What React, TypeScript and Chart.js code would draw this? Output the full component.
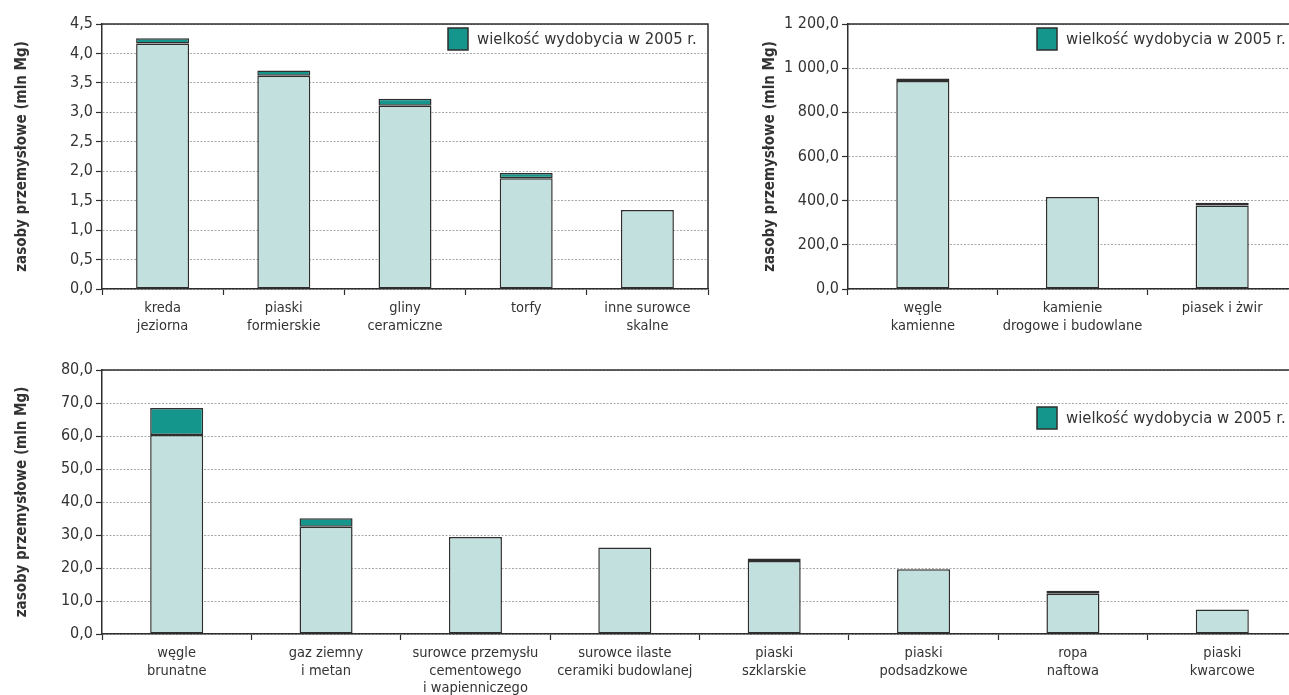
import { useEffect, useRef } from 'react';
import { Chart, registerables } from 'chart.js';

Chart.register(...registerables);

// Reserves (light) with 2005 extraction stacked on top (dark), in mln Mg.
const smallCategories = [
  ['kreda', 'jeziorna'],
  ['piaski', 'formierskie'],
  ['gliny', 'ceramiczne'],
  ['torfy'],
  ['inne surowce', 'skalne'],
];
const smallReserves = [4.17, 3.62, 3.11, 1.88, 1.34];
const smallOutput = [0.09, 0.09, 0.12, 0.09, 0];

const rockCategories = [
  ['węgle', 'kamienne'],
  ['kamienie', 'drogowe i budowlane'],
  ['piasek i żwir'],
];
const rockReserves = [942, 417, 378];
const rockOutput = [11, 0, 13];

const mainCategories = [
  ['węgle', 'brunatne'],
  ['gaz ziemny', 'i metan'],
  ['surowce przemysłu', 'cementowego', 'i wapienniczego'],
  ['surowce ilaste', 'ceramiki budowlanej'],
  ['piaski', 'szklarskie'],
  ['piaski', 'podsadzkowe'],
  ['ropa', 'naftowa'],
  ['piaski', 'kwarcowe'],
];
const mainReserves = [60.3, 32.5, 29.4, 26.2, 22.1, 19.6, 12.2, 7.4];
const mainOutput = [8.2, 2.6, 0, 0, 0.8, 0, 0.9, 0];

// Value-axis ranges: [max, step]
const smallAxis = [4.5, 0.5];
const rockAxis = [1200, 200];
const mainAxis = [80, 10];

const RESERVES_LABEL = 'zasoby przemysłowe';
const OUTPUT_LABEL = 'wielkość wydobycia w 2005 r.';
const AXIS_TITLE = 'zasoby przemysłowe (mln Mg)';

const FONT = '"DejaVu Sans Condensed", "DejaVu Sans", sans-serif';
const TEXT = '#333333';
const LIGHT = '#c2e1de';
const DARK = '#15968c';
const EDGE = '#2e2e2e';
const GRID = '#a8a8a8';

function formatTick(v: number): string {
  const [whole, dec] = v.toFixed(1).split('.');
  return whole.replace(/\B(?=(\d{3})+(?!\d))/g, ' ') + ',' + dec;
}

// Closes the plot box with a top and right edge.
const framePlugin = {
  id: 'frame',
  afterDatasetsDraw(chart: any) {
    const { ctx, chartArea: a } = chart;
    ctx.save();
    ctx.strokeStyle = EDGE;
    ctx.lineWidth = 1.5;
    ctx.beginPath();
    ctx.moveTo(a.left, a.top);
    ctx.lineTo(a.right, a.top);
    ctx.lineTo(a.right, a.bottom);
    ctx.stroke();
    ctx.restore();
  },
};

// Single-entry legend drawn inside the plot area, top right.
const insideLegend = {
  id: 'insideLegend',
  afterDraw(chart: any, _args: any, opts: any) {
    const { ctx, chartArea: a } = chart;
    const x = a.right - opts.fromRight;
    const y = a.top + opts.fromTop;
    const ds = chart.data.datasets[1];
    ctx.save();
    ctx.fillStyle = ds.backgroundColor;
    ctx.fillRect(x, y, 20, 22);
    ctx.strokeStyle = EDGE;
    ctx.lineWidth = 1.5;
    ctx.strokeRect(x, y, 20, 22);
    ctx.fillStyle = TEXT;
    ctx.font = `16.5px ${FONT}`;
    ctx.textBaseline = 'middle';
    ctx.textAlign = 'left';
    ctx.fillText(ds.label, x + 29, y + 11.5);
    ctx.restore();
  },
};

type PanelProps = {
  left: number;
  top: number;
  width: number;
  height: number;
  categories: string[][];
  reserves: number[];
  output: number[];
  axis: number[];
  axisWidth: number;
  titlePad: number;
  padTop: number;
  padRight: number;
  xAxisHeight: number;
  barPct: number;
  legendTop: number;
};

function Panel(p: PanelProps) {
  const ref = useRef<HTMLCanvasElement>(null);

  useEffect(() => {
    const chart = new Chart(ref.current as HTMLCanvasElement, {
      type: 'bar',
      data: {
        labels: p.categories,
        datasets: [
          {
            label: RESERVES_LABEL,
            data: p.reserves,
            backgroundColor: LIGHT,
            borderColor: EDGE,
            borderWidth: 1.5,
            borderSkipped: false,
          },
          {
            label: OUTPUT_LABEL,
            data: p.output,
            backgroundColor: DARK,
            borderColor: EDGE,
            borderWidth: 1.5,
            borderSkipped: false,
          },
        ],
      },
      options: {
        responsive: false,
        animation: false,
        layout: { padding: { top: p.padTop, right: p.padRight, left: 0, bottom: 0 } },
        datasets: { bar: { categoryPercentage: 1, barPercentage: p.barPct } },
        plugins: {
          legend: { display: false },
          tooltip: { enabled: false },
          insideLegend: { fromRight: 260, fromTop: p.legendTop },
        } as any,
        scales: {
          x: {
            stacked: true,
            grid: {
              display: true,
              drawOnChartArea: false,
              drawTicks: true,
              tickLength: 6,
              tickColor: EDGE,
              tickWidth: 1.2,
              offset: true,
            },
            border: { display: true, color: EDGE, width: 1.5 },
            ticks: {
              color: TEXT,
              font: { family: FONT, size: 14.5, lineHeight: 1.2 },
              padding: 5,
              autoSkip: false,
              maxRotation: 0,
              minRotation: 0,
            },
            afterFit: (s: any) => {
              s.height = p.xAxisHeight;
            },
          },
          y: {
            stacked: true,
            min: 0,
            max: p.axis[0],
            ticks: {
              stepSize: p.axis[1],
              callback: (v: any) => formatTick(Number(v)),
              color: TEXT,
              font: { family: FONT, size: 16 },
              padding: 3,
            },
            grid: {
              color: GRID,
              lineWidth: 1,
              tickLength: 6,
              tickColor: EDGE,
              tickWidth: 1.2,
            },
            border: { display: true, color: EDGE, width: 1.5, dash: [2, 1.5] },
            title: {
              display: true,
              text: AXIS_TITLE,
              color: TEXT,
              font: { family: FONT, size: 15, weight: 'bold' },
              padding: { top: p.titlePad, bottom: 0 },
            },
            afterFit: (s: any) => {
              s.width = p.axisWidth;
            },
          },
        },
      } as any,
      plugins: [framePlugin, insideLegend],
    });
    return () => chart.destroy();
  }, []);

  return (
    <canvas
      ref={ref}
      width={p.width}
      height={p.height}
      style={{ position: 'absolute', left: p.left, top: p.top, width: p.width, height: p.height }}
    />
  );
}

export default function App() {
  return (
    <div
      style={{
        position: 'fixed',
        left: 0,
        top: 0,
        width: 1289,
        height: 695,
        overflow: 'hidden',
        background: '#ffffff',
      }}
    >
      <Panel
        left={0}
        top={0}
        width={720}
        height={340}
        categories={smallCategories}
        reserves={smallReserves}
        output={smallOutput}
        axis={smallAxis}
        axisWidth={102}
        titlePad={13}
        padTop={24}
        padRight={12}
        xAxisHeight={51}
        barPct={0.437}
        legendTop={4}
      />
      <Panel
        left={730}
        top={0}
        width={570}
        height={340}
        categories={rockCategories}
        reserves={rockReserves}
        output={rockOutput}
        axis={rockAxis}
        axisWidth={118}
        titlePad={31}
        padTop={24}
        padRight={3}
        xAxisHeight={51}
        barPct={0.355}
        legendTop={4}
      />
      <Panel
        left={0}
        top={340}
        width={1300}
        height={355}
        categories={mainCategories}
        reserves={mainReserves}
        output={mainOutput}
        axis={mainAxis}
        axisWidth={102}
        titlePad={13}
        padTop={30}
        padRight={3}
        xAxisHeight={61}
        barPct={0.355}
        legendTop={37}
      />
    </div>
  );
}
